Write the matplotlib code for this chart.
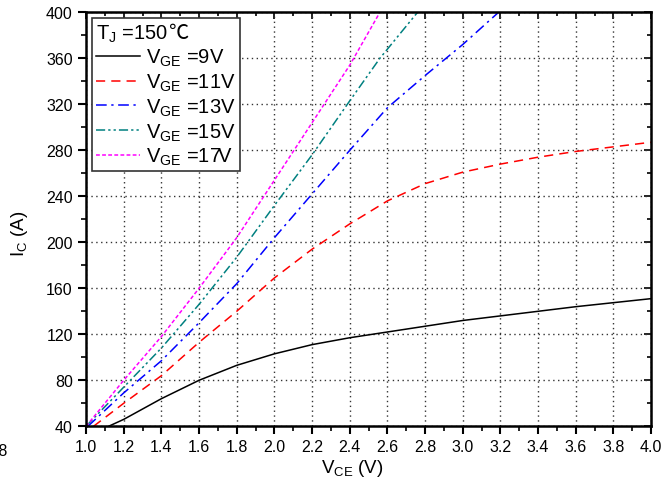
import numpy as np
import matplotlib.pyplot as plt
from matplotlib.ticker import MultipleLocator

plt.rcParams['font.family'] = ['Liberation Sans', 'DejaVu Sans']
plt.rcParams['mathtext.fontset'] = 'custom'
plt.rcParams['mathtext.rm'] = 'Liberation Sans'
plt.rcParams['mathtext.it'] = 'Liberation Sans'

# output curves
vce_9 = [1.12, 1.2, 1.4, 1.6, 1.8, 2.0, 2.2, 2.4, 2.6, 2.8, 3.0, 3.2, 3.4, 3.6, 3.8, 4.0]
ic_9 = [40, 46, 64, 80, 93, 103, 111, 117, 122, 127, 132, 136, 140, 144, 147.5, 151]

vce_11 = [1.04, 1.2, 1.4, 1.6, 1.8, 2.0, 2.2, 2.4, 2.6, 2.8, 3.0, 3.2, 3.4, 3.6, 3.8, 4.0]
ic_11 = [40, 60, 84, 113, 140, 169, 194, 216, 236, 251, 261, 268, 274, 279, 283, 287]

vce_13 = [1.01, 1.2, 1.4, 1.6, 1.8, 2.0, 2.2, 2.4, 2.6, 2.8, 3.0, 3.19]
ic_13 = [40, 69, 97, 130, 164, 204, 242, 280, 317, 345, 372, 400]

vce_15 = [1.0, 1.2, 1.4, 1.6, 1.8, 2.0, 2.2, 2.4, 2.56, 2.76]
ic_15 = [40, 74, 108, 146, 187, 232, 276, 323, 360, 400]

vce_17 = [1.0, 1.2, 1.4, 1.6, 1.8, 2.0, 2.2, 2.4, 2.56]
ic_17 = [40, 80, 118, 160, 204, 254, 304, 354, 400]

labels = ['V$_{\\rm GE}$ =9V', 'V$_{\\rm GE}$ =11V', 'V$_{\\rm GE}$ =13V',
          'V$_{\\rm GE}$ =15V', 'V$_{\\rm GE}$ =17V']

fig = plt.figure(figsize=(6.72, 4.85), dpi=100)
ax = fig.add_axes([0.128, 0.119, 0.841, 0.8536])

ax.plot(vce_9, ic_9, color='black', lw=1.1, ls='-', label=labels[0])
ax.plot(vce_11, ic_11, color='#ff0000', lw=1.1, ls=(0, (6, 4)), label=labels[1])
ax.plot(vce_13, ic_13, color='#0000ff', lw=1.1, ls=(0, (7, 3, 1.5, 3)), label=labels[2])
ax.plot(vce_15, ic_15, color='#008080', lw=1.1, ls=(0, (6, 2, 1.5, 2, 1.5, 2)), label=labels[3])
ax.plot(vce_17, ic_17, color='#ff00ff', lw=1.1, ls=(0, (2.5, 1.5)), label=labels[4])

ax.set_xlim(1.0, 4.0)
ax.set_ylim(40, 400)
ax.xaxis.set_major_locator(MultipleLocator(0.2))
ax.xaxis.set_minor_locator(MultipleLocator(0.1))
ax.yaxis.set_major_locator(MultipleLocator(40))
ax.yaxis.set_minor_locator(MultipleLocator(20))
ax.xaxis.set_major_formatter(plt.FuncFormatter(lambda v, p: '%.1f' % v))
ax.tick_params(which='major', direction='out', length=6, width=1.5, labelsize=11.5)
ax.tick_params(which='minor', direction='out', length=3.5, width=1.2)
ax.grid(True, which='major', ls=(0, (1, 2.5)), color='#333333', lw=1)
for s in ax.spines.values():
    s.set_linewidth(1.8)

top = ax.secondary_xaxis('top')
top.xaxis.set_major_locator(MultipleLocator(0.2))
top.xaxis.set_minor_locator(MultipleLocator(0.1))
top.tick_params(which='both', direction='in', labeltop=False, width=1.2)
top.tick_params(which='major', length=5)
top.tick_params(which='minor', length=3)
right = ax.secondary_yaxis('right')
right.yaxis.set_major_locator(MultipleLocator(40))
right.yaxis.set_minor_locator(MultipleLocator(20))
right.tick_params(which='both', direction='in', labelright=False, width=1.2)
right.tick_params(which='major', length=5)
right.tick_params(which='minor', length=3)

ax.set_xlabel('V$_{\\rm CE}$ (V)', fontsize=13.5)
ax.set_ylabel('I$_{\\rm C}$ (A)', fontsize=13.5)
ax.xaxis.set_label_coords(0.471, -0.074)
ax.yaxis.set_label_coords(-0.099, 0.467)

leg = ax.legend(loc='upper left', title='T$_{\\rm J}$ =150', fontsize=14.5,
                title_fontsize=14.5, frameon=True, fancybox=False, edgecolor='#333333',
                framealpha=1, handlelength=2.2, handletextpad=0.3, borderpad=0.2,
                labelspacing=0.17, bbox_to_anchor=(0.0, 1.0), borderaxespad=0.3)
leg.get_frame().set_linewidth(1.2)
leg._legend_box.align = 'left'
ax.annotate('\u2103', xy=(1, 0.02), xycoords=leg.get_title(), ha='left', va='bottom',
            fontsize=14.5, family=['Noto Sans CJK SC', 'DejaVu Sans'], zorder=10)

fig.text(8 / 672, 1 - 452 / 485, '0.8', ha='right', va='center', fontsize=11.5)

fig.savefig('out.png', dpi=100)
